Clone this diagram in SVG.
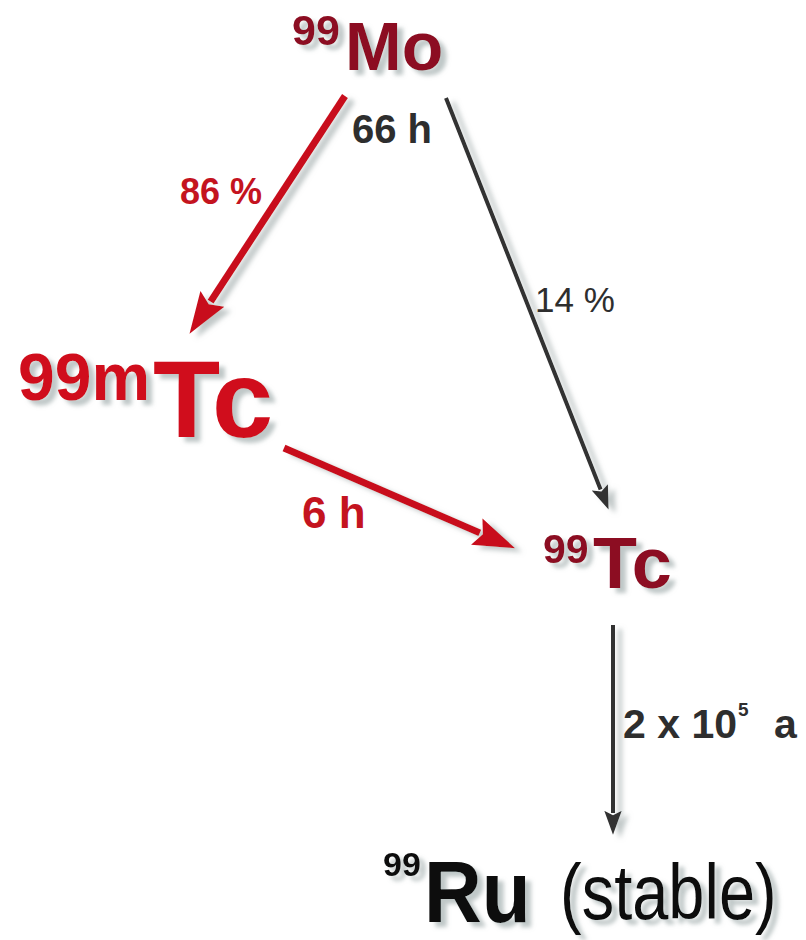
<svg xmlns="http://www.w3.org/2000/svg" width="806" height="940" viewBox="0 0 806 940">
<style>
.b{font-family:"Liberation Sans",Arial,sans-serif;font-weight:bold}
.r{font-family:"Liberation Sans",Arial,sans-serif;font-weight:normal}
.dred{fill:#8c1022}
.red{fill:#d0101c}
.lred{fill:#c4141f}
.gray{fill:#2e2e2e}
.blk{fill:#111}
.ared{stroke:#c8101c;stroke-width:7;fill:none}
.agray{stroke:#303030;stroke-width:4;fill:none}
</style>
<defs>
<filter id="sh" x="-20%" y="-20%" width="140%" height="140%">
<feDropShadow dx="6" dy="5" stdDeviation="2" flood-color="#8a9a9a" flood-opacity="0.55"/>
</filter>
<filter id="ash" x="-20%" y="-20%" width="140%" height="140%">
<feDropShadow dx="7" dy="4" stdDeviation="2.5" flood-color="#9aa4a4" flood-opacity="0.6"/>
</filter>
<marker id="hr" markerUnits="userSpaceOnUse" markerWidth="44" markerHeight="40" viewBox="0 -16 40 32" refX="3" refY="0" orient="auto">
<path d="M0,-13 L38,0 L0,13 L6,0 Z" fill="#c8101c"/>
</marker>
<marker id="hg" markerUnits="userSpaceOnUse" markerWidth="26" markerHeight="26" viewBox="0 -10 24 20" refX="2" refY="0" orient="auto">
<path d="M0,-8 L22,0 L0,8 L4,0 Z" fill="#303030"/>
</marker>
</defs>
<rect width="806" height="940" fill="#ffffff"/>

<g id="connectors">
<g filter="url(#ash)">
<line class="ared" x1="345" y1="96" x2="210.6" y2="301.6" marker-end="url(#hr)"/>
<line class="ared" x1="284" y1="448" x2="479.8" y2="532.9" marker-end="url(#hr)"/>
<line class="agray" x1="446" y1="98" x2="600.6" y2="489.4" marker-end="url(#hg)"/>
<line class="agray" x1="613" y1="625" x2="613" y2="813" marker-end="url(#hg)"/>
</g>
<text class="b gray" x="352" y="143" font-size="40">66 h</text>
<text class="b lred" x="180" y="204" font-size="36">86 %</text>
<text class="r gray" x="535" y="312" font-size="35">14 %</text>
<text class="b lred" x="302" y="528" font-size="44">6 h</text>
<text class="b gray" x="623" y="738" font-size="41">2 x 10</text>
<text class="b gray" x="738" y="716" font-size="19">5</text>
<text class="b gray" x="774" y="738" font-size="41">a</text>
</g>

<g id="mo99" filter="url(#sh)">
<text class="b dred" x="292" y="45" font-size="43">99</text>
<text class="b dred" x="345" y="70" font-size="68">Mo</text>
</g>

<g id="tc99m" filter="url(#sh)">
<text class="b red" x="18" y="400" font-size="66">99m</text>
<text class="b red" x="153" y="437" font-size="110">Tc</text>
</g>

<g id="tc99" filter="url(#sh)">
<text class="b dred" x="543" y="563" font-size="41">99</text>
<text class="b dred" x="593" y="588" font-size="72">Tc</text>
</g>

<g id="ru99" filter="url(#sh)">
<text class="b blk" x="383" y="876" font-size="34">99</text>
<text class="b blk" transform="translate(424,922) scale(1,1.08)" font-size="80">Ru</text>
<text class="r blk" transform="translate(560,919) scale(1,1.2)" font-size="65">(stable)</text>
</g>
</svg>
